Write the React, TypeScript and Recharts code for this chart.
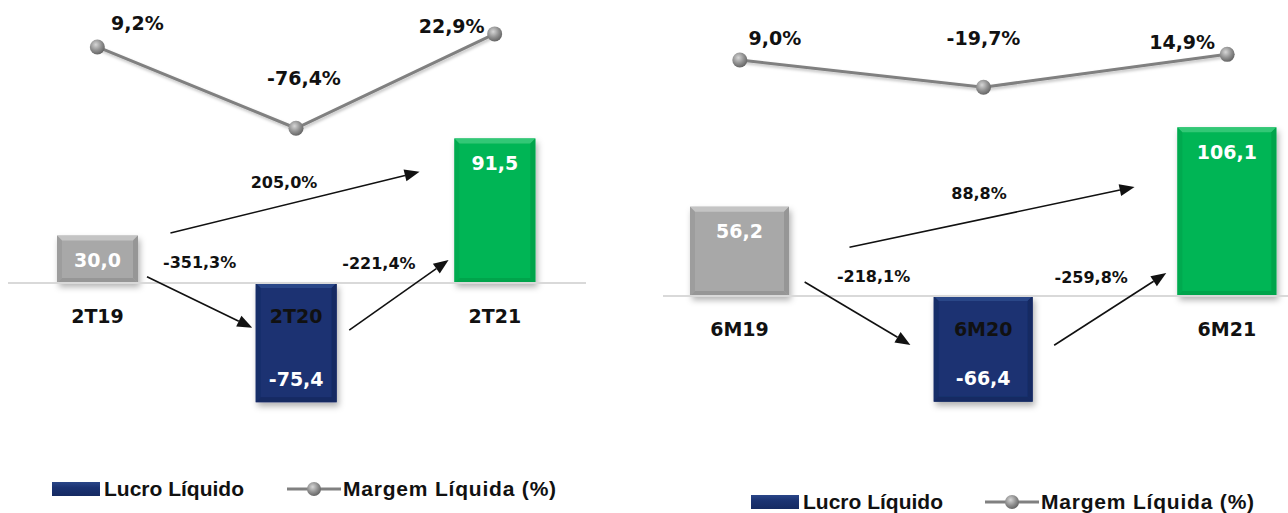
import React from "react";
import {
  Bar,
  ComposedChart,
  LabelList,
  Line,
  ReferenceLine,
  XAxis,
  YAxis,
} from "recharts";

// Lucro líquido (R$ mi) e margem líquida — trimestre
const categorias2T = ["2T19", "2T20", "2T21"];
const lucro2T = [30.0, -75.4, 91.5];
const margem2T = [9.2, -76.4, 22.9];
const variacao2T = ["-351,3%", "-221,4%", "205,0%"];

// acumulado no semestre
const categorias6M = ["6M19", "6M20", "6M21"];
const lucro6M = [56.2, -66.4, 106.1];
const margem6M = [9.0, -19.7, 14.9];
const variacao6M = ["-218,1%", "-259,8%", "88,8%"];

const BAR_COLORS = [
  { light: "#c4c4c4", base: "#a8a8a8", dark: "#969696" },
  { light: "#2a4688", base: "#1b3372", dark: "#152a62" },
  { light: "#33c876", base: "#06b555", dark: "#04a44c" },
];

const VALUE_FONT = "'DejaVu Sans', sans-serif";
const LEGEND_FONT = "'Liberation Sans', Arial, sans-serif";

const fmt = (v: number, suffix = "") => v.toFixed(1).replace(".", ",") + suffix;

type ArrowSpec = {
  from: number;
  to: number;
  y: [number, number]; // in bar-axis units, at the category centres
  trim: [number, number];
  labelOffset: [number, number];
};

type PanelLayout = {
  id: string;
  left: number;
  width: number;
  barSize: number;
  barDomain: [number, number];
  lineDomain: [number, number];
  zeroInset: [number, number];
  lineLabelOffsets: [number, number][];
  arrows: ArrowSpec[];
};

const layout2T: PanelLayout = {
  id: "p2t",
  left: -2,
  width: 596,
  barSize: 81,
  barDomain: [-112.0, 179.1],
  lineDomain: [-425.6, 58.6],
  zeroInset: [10, 8],
  lineLabelOffsets: [
    [40, -24],
    [8, -50],
    [-43, -8],
  ],
  arrows: [
    { from: 0, to: 1, y: [19.2, -41.7], trim: [0.25, 0.22], labelOffset: [0, -40] },
    { from: 1, to: 2, y: [-53.5, 35.1], trim: [0.268, 0.232], labelOffset: [-20, -32] },
    { from: 0, to: 2, y: [20.3, 82.0], trim: [0.184, 0.189], labelOffset: [-11, -20] },
  ],
};

const layout6M: PanelLayout = {
  id: "p6m",
  left: 618,
  width: 731,
  barSize: 99,
  barDomain: [-103.1, 186.2],
  lineDomain: [-412.1, 72.1],
  zeroInset: [45, 0],
  lineLabelOffsets: [
    [35, -22],
    [0, -49],
    [-45, -12],
  ],
  arrows: [
    { from: 0, to: 1, y: [33.1, -58.1], trim: [0.266, 0.3], labelOffset: [16, -37] },
    { from: 1, to: 2, y: [-59.5, 39.1], trim: [0.29, 0.25], labelOffset: [-19, -32] },
    { from: 0, to: 2, y: [16.2, 80.9], trim: [0.225, 0.19], labelOffset: [-13, -24] },
  ],
};

const CHART_HEIGHT = 460;

function BevelBar(props: any) {
  const { x, y, width, height, index, pid } = props;
  const top = Math.min(y, y + height);
  const h = Math.abs(height);
  const c = BAR_COLORS[index];
  const b = Math.min(5, h / 3);
  const r = x + width;
  const btm = top + h;
  return (
    <g filter={`url(#${pid}-shadow)`}>
      <rect x={x} y={top} width={width} height={h} fill={c.base} />
      <polygon points={`${x},${top} ${r},${top} ${r - b},${top + b} ${x + b},${top + b}`} fill={c.light} />
      <polygon points={`${x},${top} ${x + b},${top + b} ${x + b},${btm - b} ${x},${btm}`} fill={c.dark} opacity={0.6} />
      <polygon points={`${r},${top} ${r},${btm} ${r - b},${btm - b} ${r - b},${top + b}`} fill={c.dark} />
      <polygon points={`${x},${btm} ${x + b},${btm - b} ${r - b},${btm - b} ${r},${btm}`} fill={c.dark} />
    </g>
  );
}

function Panel({
  categorias,
  lucro,
  margem,
  variacao,
  cfg,
}: {
  categorias: string[];
  lucro: number[];
  margem: number[];
  variacao: string[];
  cfg: PanelLayout;
}) {
  const data = categorias.map((cat, i) => ({ cat, lucro: lucro[i], margem: margem[i] }));
  const pid = cfg.id;

  const barLabel = (p: any) => {
    const { x, y, width, height, index } = p;
    const v = lucro[index];
    const top = Math.min(y, y + height);
    const bottom = Math.max(y, y + height);
    const base = v >= 0 ? bottom : top;
    const cx = x + width / 2;
    return (
      <g key={`bl-${index}`}>
        <text
          x={cx}
          y={v >= 0 ? top + 25 : bottom - 23}
          dy="0.35em"
          textAnchor="middle"
          fontFamily={VALUE_FONT}
          fontWeight="bold"
          fontSize={19}
          fill="#ffffff"
        >
          {fmt(v)}
        </text>
        <text
          x={cx}
          y={base + 33}
          dy="0.35em"
          textAnchor="middle"
          fontFamily={VALUE_FONT}
          fontWeight="bold"
          fontSize={19}
          fill="#111111"
        >
          {categorias[index]}
        </text>
      </g>
    );
  };

  const lineLabel = (p: any) => {
    const { x, y, index } = p;
    const [dx, dy] = cfg.lineLabelOffsets[index];
    return (
      <text
        key={`ll-${index}`}
        x={x + dx}
        y={y + dy}
        dy="0.35em"
        textAnchor="middle"
        fontFamily={VALUE_FONT}
        fontWeight="bold"
        fontSize={19}
        fill="#111111"
      >
        {fmt(margem[index], "%")}
      </text>
    );
  };

  const arrowShape = (spec: ArrowSpec, label: string) => (p: any) => {
    const { x1, y1, x2, y2 } = p;
    const sx = x1 + (x2 - x1) * spec.trim[0];
    const sy = y1 + (y2 - y1) * spec.trim[0];
    const ex = x2 - (x2 - x1) * spec.trim[1];
    const ey = y2 - (y2 - y1) * spec.trim[1];
    const a = Math.atan2(ey - sy, ex - sx);
    const L = 15;
    const W = 6;
    const bx = ex - L * Math.cos(a);
    const by = ey - L * Math.sin(a);
    const nx = -Math.sin(a) * W;
    const ny = Math.cos(a) * W;
    const mx = (sx + ex) / 2 + spec.labelOffset[0];
    const my = (sy + ey) / 2 + spec.labelOffset[1];
    return (
      <g>
        <line x1={sx} y1={sy} x2={bx} y2={by} stroke="#111" strokeWidth={1.6} />
        <polygon points={`${ex},${ey} ${bx + nx},${by + ny} ${bx - nx},${by - ny}`} fill="#111" />
        <text
          x={mx}
          y={my}
          dy="0.35em"
          textAnchor="middle"
          fontFamily={VALUE_FONT}
          fontWeight="bold"
          fontSize={16}
          fill="#111111"
        >
          {label}
        </text>
      </g>
    );
  };

  return (
    <div style={{ position: "absolute", left: cfg.left, top: 0 }}>
      <ComposedChart
        width={cfg.width}
        height={CHART_HEIGHT}
        data={data}
        margin={{ top: 0, right: 0, bottom: 0, left: 0 }}
      >
        <defs>
          <filter id={`${pid}-shadow`} x="-30%" y="-30%" width="160%" height="160%">
            <feDropShadow dx="2" dy="4" stdDeviation="3" floodColor="#000" floodOpacity="0.3" />
          </filter>
          <filter id={`${pid}-lshadow`} x="-10%" y="-30%" width="120%" height="160%">
            <feDropShadow dx="1" dy="2" stdDeviation="1.5" floodColor="#000" floodOpacity="0.25" />
          </filter>
          <radialGradient id={`${pid}-ball`} cx="40%" cy="35%" r="65%">
            <stop offset="0%" stopColor="#d6d6d6" />
            <stop offset="60%" stopColor="#8f8f8f" />
            <stop offset="100%" stopColor="#666666" />
          </radialGradient>
        </defs>
        <XAxis dataKey="cat" type="category" hide />
        <YAxis yAxisId="bar" type="number" domain={cfg.barDomain} allowDataOverflow hide />
        <YAxis yAxisId="line" type="number" domain={cfg.lineDomain} allowDataOverflow hide />
        <ReferenceLine
          yAxisId="bar"
          y={0}
          ifOverflow="visible"
          shape={(p: any) => (
            <line
              x1={p.x1 + cfg.zeroInset[0]}
              y1={p.y1}
              x2={p.x2 - cfg.zeroInset[1]}
              y2={p.y2}
              stroke="#d9d9d9"
              strokeWidth={2}
            />
          )}
        />
        <Bar
          yAxisId="bar"
          dataKey="lucro"
          barSize={cfg.barSize}
          isAnimationActive={false}
          shape={(p: any) => <BevelBar {...p} pid={pid} />}
        >
          <LabelList dataKey="lucro" content={barLabel} />
        </Bar>
        <Line
          yAxisId="line"
          dataKey="margem"
          stroke="#808080"
          strokeWidth={3}
          isAnimationActive={false}
          style={{ filter: `url(#${pid}-lshadow)` }}
          dot={(p: any) => (
            <circle key={`d-${p.index}`} cx={p.cx} cy={p.cy} r={7.5} fill={`url(#${pid}-ball)`} />
          )}
          activeDot={false}
        >
          <LabelList dataKey="margem" content={lineLabel} />
        </Line>
        {cfg.arrows.map((spec, i) => (
          <ReferenceLine
            key={`arrow-${i}`}
            yAxisId="bar"
            ifOverflow="visible"
            segment={[
              { x: categorias[spec.from], y: spec.y[0] },
              { x: categorias[spec.to], y: spec.y[1] },
            ]}
            shape={arrowShape(spec, variacao[i])}
          />
        ))}
      </ComposedChart>
    </div>
  );
}

function LegendRow({
  left,
  lineLeft,
  top,
}: {
  left: number;
  lineLeft: number;
  top: number;
}) {
  const text: React.CSSProperties = {
    position: "absolute",
    fontFamily: LEGEND_FONT,
    fontWeight: "bold",
    fontSize: 21,
    color: "#111",
    lineHeight: "24px",
    top: top - 12,
    whiteSpace: "nowrap",
  };
  return (
    <>
      <div
        style={{
          position: "absolute",
          left,
          top: top - 7,
          width: 48,
          height: 14,
          background: "linear-gradient(#2a4688, #1b3372 40%, #152a62)",
        }}
      />
      <div style={{ ...text, left: left + 52 }}>Lucro Líquido</div>
      <svg style={{ position: "absolute", left: lineLeft, top: top - 10 }} width={54} height={20}>
        <defs>
          <radialGradient id={`lg-ball-${left}`} cx="40%" cy="35%" r="65%">
            <stop offset="0%" stopColor="#d6d6d6" />
            <stop offset="60%" stopColor="#8f8f8f" />
            <stop offset="100%" stopColor="#666666" />
          </radialGradient>
        </defs>
        <line x1={0} y1={10} x2={54} y2={10} stroke="#808080" strokeWidth={3} />
        <circle cx={27} cy={10} r={7} fill={`url(#lg-ball-${left})`} />
      </svg>
      <div style={{ ...text, left: lineLeft + 56, letterSpacing: 0.8 }}>Margem Líquida (%)</div>
    </>
  );
}

export default function App() {
  return (
    <div
      style={{
        position: "absolute",
        left: 0,
        top: 0,
        width: 1288,
        height: 513,
        overflow: "hidden",
        background: "#ffffff",
      }}
    >
      <Panel categorias={categorias2T} lucro={lucro2T} margem={margem2T} variacao={variacao2T} cfg={layout2T} />
      <Panel categorias={categorias6M} lucro={lucro6M} margem={margem6M} variacao={variacao6M} cfg={layout6M} />
      <LegendRow left={52} lineLeft={287} top={489} />
      <LegendRow left={751} lineLeft={985} top={502} />
    </div>
  );
}
